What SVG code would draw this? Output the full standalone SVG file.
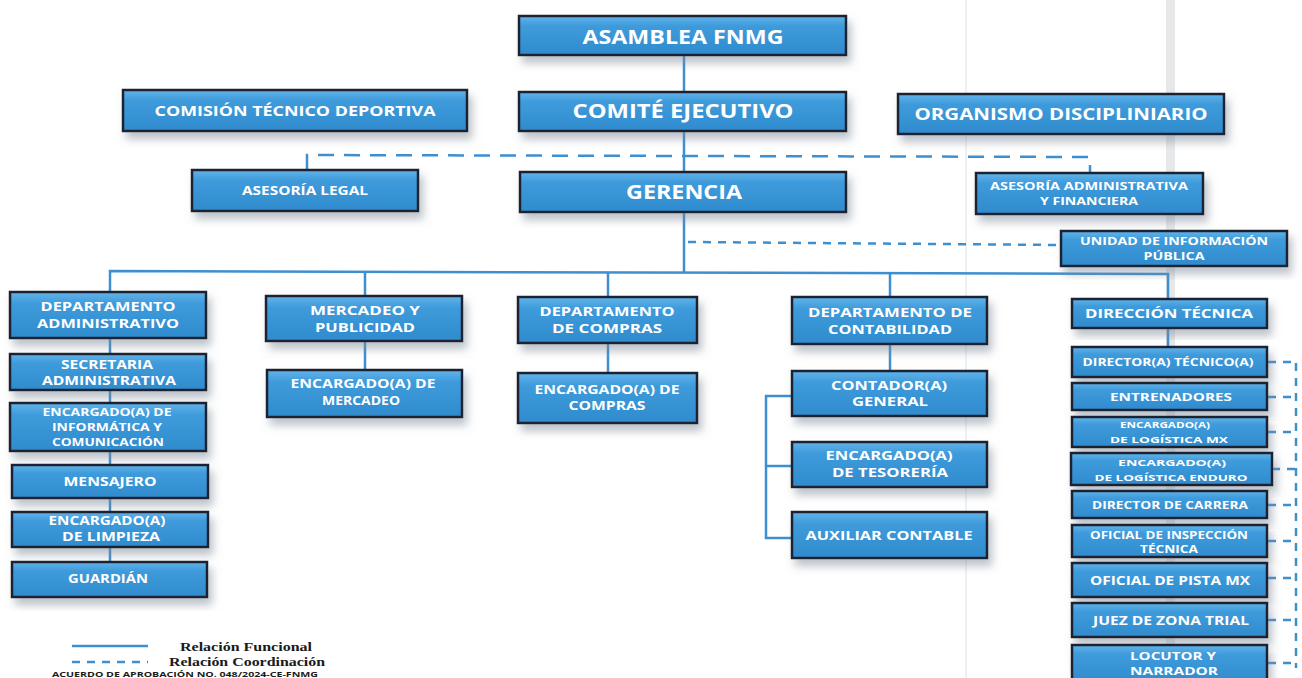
<svg xmlns="http://www.w3.org/2000/svg" width="1302" height="678" viewBox="0 0 1302 678">
<defs>
<linearGradient id="g" x1="0" y1="0" x2="0" y2="1">
<stop offset="0" stop-color="#62b4ea"/>
<stop offset="0.25" stop-color="#3f9bdb"/>
<stop offset="1" stop-color="#2f8bcd"/>
</linearGradient>
<filter id="sh" x="-10%" y="-20%" width="130%" height="160%">
<feDropShadow dx="4" dy="7" stdDeviation="4" flood-color="#7a8694" flood-opacity="0.5"/>
</filter>
<style>
.box{fill:url(#g);stroke:#1b2430;stroke-width:2.5;filter:url(#sh)}
.t{font-family:"Open Sans","Liberation Sans",sans-serif;font-weight:bold;fill:#ffffff;text-anchor:middle}
.s{font-size:12px}
.xs{font-size:10.5px}
.c{fill:none;stroke:#3e8fd0;stroke-width:2.5}
.d{fill:none;stroke:#3e8fd0;stroke-width:2.5;stroke-dasharray:16 10}
.d2{fill:none;stroke:#3e8fd0;stroke-width:2.5;stroke-dasharray:8 7}
.lg{font-family:"Liberation Serif",serif;font-weight:bold;font-size:12px;fill:#1a1a1a}
</style>
</defs>
<rect width="1302" height="678" fill="#ffffff"/>
<g id="scan" opacity="0.35">
<rect x="1166" y="0" width="9" height="678" fill="#b8bcc0"/>
<rect x="965" y="0" width="2" height="678" fill="#d0d3d6"/>
</g>
<g id="connectors">
<line class="c" x1="684" y1="55" x2="684" y2="273"/>
<polyline class="c" points="110,292 110,271 1168,274 1168,299"/>
<line class="c" x1="365" y1="272" x2="365" y2="296"/>
<line class="c" x1="608" y1="272" x2="608" y2="297"/>
<line class="c" x1="890" y1="273" x2="890" y2="297"/>
<line class="c" x1="110" y1="338" x2="110" y2="562"/>
<line class="c" x1="365" y1="341" x2="365" y2="370"/>
<line class="c" x1="608" y1="343" x2="608" y2="373"/>
<line class="c" x1="890" y1="344" x2="890" y2="371"/>
<line class="c" x1="1168" y1="328" x2="1168" y2="347"/>
<polyline class="c" points="792,396 766,396 766,538 792,538"/>
<line class="c" x1="766" y1="466" x2="792" y2="466"/>
<polyline class="d" points="307,170 307,155 1090,157 1090,173"/>
<line class="d2" x1="688" y1="242" x2="1061" y2="245"/>
<line class="d2" x1="1296" y1="363" x2="1296" y2="668"/>
<line class="d2" x1="1268" y1="362" x2="1296" y2="362"/>
<line class="d2" x1="1268" y1="397" x2="1296" y2="397"/>
<line class="d2" x1="1268" y1="432" x2="1296" y2="432"/>
<line class="d2" x1="1272" y1="469" x2="1296" y2="469"/>
<line class="d2" x1="1268" y1="505" x2="1296" y2="505"/>
<line class="d2" x1="1268" y1="541" x2="1296" y2="541"/>
<line class="d2" x1="1268" y1="578" x2="1296" y2="578"/>
<line class="d2" x1="1268" y1="620" x2="1296" y2="620"/>
<line class="d2" x1="1268" y1="663" x2="1296" y2="663"/>
</g>
<g id="n-asamblea"><rect class="box" x="519" y="16" width="327" height="39"/><text class="t" x="683" y="44" font-size="20" textLength="201" lengthAdjust="spacingAndGlyphs">ASAMBLEA FNMG</text></g>
<g id="n-comision"><rect class="box" x="123" y="90" width="344" height="41"/><text class="t" x="295" y="116" font-size="15" textLength="281" lengthAdjust="spacingAndGlyphs">COMISIÓN TÉCNICO DEPORTIVA</text></g>
<g id="n-comite"><rect class="box" x="519" y="92" width="327" height="39"/><text class="t" x="683" y="118" font-size="20" textLength="221" lengthAdjust="spacingAndGlyphs">COMITÉ EJECUTIVO</text></g>
<g id="n-organismo"><rect class="box" x="898" y="94" width="326" height="40"/><text class="t" x="1061" y="120" font-size="16.5" textLength="293" lengthAdjust="spacingAndGlyphs">ORGANISMO DISCIPLINIARIO</text></g>
<g id="n-legal"><rect class="box" x="192" y="170" width="226" height="41"/><text class="t s" x="305" y="195" textLength="126" lengthAdjust="spacingAndGlyphs">ASESORÍA LEGAL</text></g>
<g id="n-gerencia"><rect class="box" x="520" y="172" width="326" height="40"/><text class="t" x="684" y="199" font-size="20" textLength="116" lengthAdjust="spacingAndGlyphs">GERENCIA</text></g>
<g id="n-asesoria-adm"><rect class="box" x="976" y="173" width="227" height="41"/><text class="t xs" x="1089" y="190" textLength="198" lengthAdjust="spacingAndGlyphs">ASESORÍA ADMINISTRATIVA</text><text class="t xs" x="1089" y="205" textLength="98" lengthAdjust="spacingAndGlyphs">Y FINANCIERA</text></g>
<g id="n-unidad"><rect class="box" x="1061" y="231" width="226" height="35"/><text class="t xs" x="1174" y="245" textLength="188" lengthAdjust="spacingAndGlyphs">UNIDAD DE INFORMACIÓN</text><text class="t xs" x="1174" y="260" textLength="61" lengthAdjust="spacingAndGlyphs">PÚBLICA</text></g>
<g id="n-dep-adm"><rect class="box" x="10" y="292" width="196" height="46"/><text class="t s" x="108" y="311" textLength="135" lengthAdjust="spacingAndGlyphs">DEPARTAMENTO</text><text class="t s" x="108" y="328" textLength="142" lengthAdjust="spacingAndGlyphs">ADMINISTRATIVO</text></g>
<g id="n-mercadeo"><rect class="box" x="266" y="296" width="196" height="45"/><text class="t s" x="365" y="315" textLength="110" lengthAdjust="spacingAndGlyphs">MERCADEO Y</text><text class="t s" x="365" y="332" textLength="100" lengthAdjust="spacingAndGlyphs">PUBLICIDAD</text></g>
<g id="n-compras"><rect class="box" x="518" y="297" width="179" height="46"/><text class="t s" x="607" y="316" textLength="135" lengthAdjust="spacingAndGlyphs">DEPARTAMENTO</text><text class="t s" x="607" y="333" textLength="110" lengthAdjust="spacingAndGlyphs">DE COMPRAS</text></g>
<g id="n-contabilidad"><rect class="box" x="792" y="297" width="195" height="47"/><text class="t s" x="890" y="317" textLength="164" lengthAdjust="spacingAndGlyphs">DEPARTAMENTO DE</text><text class="t s" x="890" y="334" textLength="124" lengthAdjust="spacingAndGlyphs">CONTABILIDAD</text></g>
<g id="n-direccion"><rect class="box" x="1072" y="299" width="195" height="29"/><text class="t s" x="1169" y="318" textLength="168" lengthAdjust="spacingAndGlyphs">DIRECCIÓN TÉCNICA</text></g>
<g id="n-secretaria"><rect class="box" x="10" y="354" width="196" height="36"/><text class="t s" x="107" y="369" textLength="92" lengthAdjust="spacingAndGlyphs">SECRETARIA</text><text class="t s" x="109" y="385" textLength="134" lengthAdjust="spacingAndGlyphs">ADMINISTRATIVA</text></g>
<g id="n-informatica"><rect class="box" x="10" y="403" width="196" height="48"/><text class="t xs" x="107" y="416" textLength="129" lengthAdjust="spacingAndGlyphs">ENCARGADO(A) DE</text><text class="t xs" x="107" y="431" textLength="110" lengthAdjust="spacingAndGlyphs">INFORMÁTICA Y</text><text class="t xs" x="108" y="446" textLength="112" lengthAdjust="spacingAndGlyphs">COMUNICACIÓN</text></g>
<g id="n-mensajero"><rect class="box" x="12" y="465" width="196" height="33"/><text class="t s" x="110" y="486" textLength="93" lengthAdjust="spacingAndGlyphs">MENSAJERO</text></g>
<g id="n-limpieza"><rect class="box" x="12" y="512" width="196" height="35"/><text class="t s" x="107" y="525" textLength="117" lengthAdjust="spacingAndGlyphs">ENCARGADO(A)</text><text class="t s" x="111" y="541" textLength="98" lengthAdjust="spacingAndGlyphs">DE LIMPIEZA</text></g>
<g id="n-guardian"><rect class="box" x="12" y="562" width="195" height="35"/><text class="t s" x="108" y="583" textLength="80" lengthAdjust="spacingAndGlyphs">GUARDIÁN</text></g>
<g id="n-enc-mercadeo"><rect class="box" x="267" y="370" width="195" height="47"/><text class="t s" x="363" y="388" textLength="145" lengthAdjust="spacingAndGlyphs">ENCARGADO(A) DE</text><text class="t s" x="361" y="405" textLength="78" lengthAdjust="spacingAndGlyphs">MERCADEO</text></g>
<g id="n-enc-compras"><rect class="box" x="518" y="373" width="179" height="50"/><text class="t s" x="607" y="394" textLength="145" lengthAdjust="spacingAndGlyphs">ENCARGADO(A) DE</text><text class="t s" x="607" y="410" textLength="77" lengthAdjust="spacingAndGlyphs">COMPRAS</text></g>
<g id="n-contador"><rect class="box" x="792" y="371" width="195" height="45"/><text class="t s" x="889" y="390" textLength="116" lengthAdjust="spacingAndGlyphs">CONTADOR(A)</text><text class="t s" x="890" y="406" textLength="76" lengthAdjust="spacingAndGlyphs">GENERAL</text></g>
<g id="n-tesoreria"><rect class="box" x="792" y="442" width="195" height="45"/><text class="t s" x="889" y="460" textLength="127" lengthAdjust="spacingAndGlyphs">ENCARGADO(A)</text><text class="t s" x="890" y="477" textLength="116" lengthAdjust="spacingAndGlyphs">DE TESORERÍA</text></g>
<g id="n-auxiliar"><rect class="box" x="792" y="512" width="195" height="46"/><text class="t s" x="889" y="540" textLength="167" lengthAdjust="spacingAndGlyphs">AUXILIAR CONTABLE</text></g>
<g id="n-director-tecnico"><rect class="box" x="1072" y="347" width="195" height="30"/><text class="t xs" x="1168" y="366" textLength="171" lengthAdjust="spacingAndGlyphs">DIRECTOR(A) TÉCNICO(A)</text></g>
<g id="n-entrenadores"><rect class="box" x="1072" y="383" width="195" height="27"/><text class="t xs" x="1171" y="401" textLength="122" lengthAdjust="spacingAndGlyphs">ENTRENADORES</text></g>
<g id="n-logistica-mx"><rect class="box" x="1072" y="417" width="195" height="30"/><text class="t" x="1165" y="428" font-size="9.5" textLength="90" lengthAdjust="spacingAndGlyphs">ENCARGADO(A)</text><text class="t" x="1169" y="443" font-size="9.5" textLength="118" lengthAdjust="spacingAndGlyphs">DE LOGÍSTICA MX</text></g>
<g id="n-logistica-enduro"><rect class="box" x="1071" y="453" width="201" height="32"/><text class="t" x="1172" y="466" font-size="9.5" textLength="108" lengthAdjust="spacingAndGlyphs">ENCARGADO(A)</text><text class="t" x="1171" y="481" font-size="9.5" textLength="153" lengthAdjust="spacingAndGlyphs">DE LOGÍSTICA ENDURO</text></g>
<g id="n-director-carrera"><rect class="box" x="1072" y="491" width="195" height="27"/><text class="t xs" x="1170" y="509" textLength="156" lengthAdjust="spacingAndGlyphs">DIRECTOR DE CARRERA</text></g>
<g id="n-inspeccion"><rect class="box" x="1072" y="525" width="195" height="32"/><text class="t xs" x="1169" y="539" textLength="158" lengthAdjust="spacingAndGlyphs">OFICIAL DE INSPECCIÓN</text><text class="t xs" x="1169" y="553" textLength="58" lengthAdjust="spacingAndGlyphs">TÉCNICA</text></g>
<g id="n-pista"><rect class="box" x="1072" y="563" width="195" height="34"/><text class="t s" x="1170" y="585" textLength="160" lengthAdjust="spacingAndGlyphs">OFICIAL DE PISTA MX</text></g>
<g id="n-juez"><rect class="box" x="1072" y="603" width="195" height="34"/><text class="t s" x="1171" y="625" textLength="156" lengthAdjust="spacingAndGlyphs">JUEZ DE ZONA TRIAL</text></g>
<g id="n-locutor"><rect class="box" x="1072" y="645" width="195" height="38"/><text class="t xs" x="1173" y="660" textLength="86" lengthAdjust="spacingAndGlyphs">LOCUTOR Y</text><text class="t xs" x="1174" y="675" textLength="88" lengthAdjust="spacingAndGlyphs">NARRADOR</text></g>
<g id="legend">
<line class="c" x1="72" y1="646" x2="148" y2="646" stroke-width="2"/>
<line class="d2" x1="72" y1="662" x2="148" y2="662" stroke-width="2"/>
<text class="lg" x="180" y="651" textLength="132" lengthAdjust="spacingAndGlyphs">Relación Funcional</text>
<text class="lg" x="169" y="665.5" textLength="156" lengthAdjust="spacingAndGlyphs">Relación Coordinación</text>
<text x="52" y="677" font-family="'Open Sans','Liberation Sans',sans-serif" font-weight="bold" font-size="7.5" fill="#1a1a1a" textLength="266" lengthAdjust="spacingAndGlyphs">ACUERDO DE APROBACIÓN NO. 048/2024-CE-FNMG</text>
</g>
</svg>
